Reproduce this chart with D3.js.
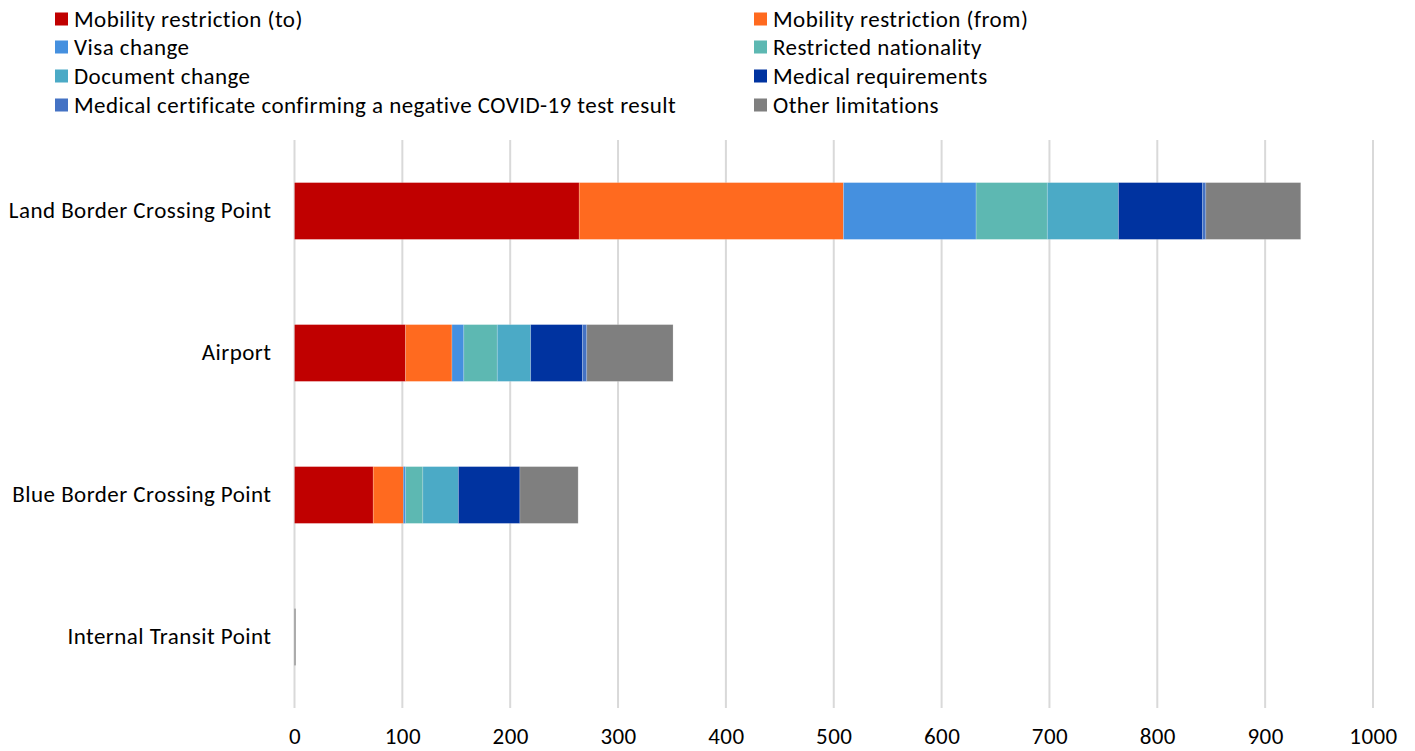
<!DOCTYPE html>
<html>
<head>
<meta charset="utf-8">
<script src="https://cdn.jsdelivr.net/npm/d3@7"></script>
<style>
  html, body { margin: 0; padding: 0; background: #fff; }
  svg { display: block; font-family: Carlito, Lato, "Open Sans", "Liberation Sans", sans-serif; }
  svg text { letter-spacing: 0.45px; }
</style>
</head>
<body>
<svg id="chart" width="1415" height="751"></svg>
<script>
// Border point types (top to bottom)
const categories = ["Land Border Crossing Point", "Airport", "Blue Border Crossing Point", "Internal Transit Point"];

// Restriction types, in stacking order
const seriesNames = [
  "Mobility restriction (to)",
  "Mobility restriction (from)",
  "Visa change",
  "Restricted nationality",
  "Document change",
  "Medical requirements",
  "Medical certificate confirming a negative COVID-19 test result",
  "Other limitations"
];

// Counts per series, one value per category
const mobilityTo      = [264, 103, 73, 0];
const mobilityFrom    = [245, 43, 28, 0];
const visaChange      = [123, 11, 2, 0];
const restrictedNat   = [66, 31, 16, 0];
const documentChange  = [66, 31, 33, 0];
const medicalReq      = [78, 48, 57, 0];
const medicalCert     = [3, 4, 0, 0];
const otherLimits     = [88, 80, 54, 1];

const xTicks = [0, 100, 200, 300, 400, 500, 600, 700, 800, 900, 1000];

const seriesValues = [mobilityTo, mobilityFrom, visaChange, restrictedNat, documentChange, medicalReq, medicalCert, otherLimits];
const colors = ["#C00000", "#FF6A1F", "#4590DF", "#5DB8B2", "#4BAAC6", "#0033A0", "#4472C4", "#7F7F7F"];

const rows = categories.map((c, i) => {
  const r = { category: c };
  seriesNames.forEach((s, j) => { r[s] = seriesValues[j][i]; });
  return r;
});

const svg = d3.select("#chart");
const margin = { left: 294.5, right: 42, top: 140, bottom: 43 };
const width = 1415, height = 751;
const fontSize = 23;

const x = d3.scaleLinear().domain([0, 1000]).range([margin.left, width - margin.right]);
const y = d3.scaleBand().domain(categories).range([margin.top, height - margin.bottom]).paddingInner(0.6).paddingOuter(0.3);

// vertical gridlines
svg.append("g")
  .selectAll("line")
  .data(xTicks)
  .join("line")
  .attr("x1", d => x(d)).attr("x2", d => x(d))
  .attr("y1", margin.top).attr("y2", height - margin.bottom)
  .attr("stroke", "#D9D9D9")
  .attr("stroke-width", 2);

// stacked bars
const stack = d3.stack().keys(seriesNames);
const layers = stack(rows);

svg.append("g")
  .selectAll("g")
  .data(layers)
  .join("g")
  .attr("fill", (d, i) => colors[i])
  .selectAll("rect")
  .data(d => d)
  .join("rect")
  .attr("x", d => x(d[0]))
  .attr("y", d => y(d.data.category))
  .attr("width", d => Math.max(0, x(d[1]) - x(d[0])))
  .attr("height", y.bandwidth())
  .attr("stroke", "rgba(255,255,255,0.25)")
  .attr("stroke-width", d => (d[1] - d[0]) > 2 ? 0.75 : 0);

// x axis labels
const xAxis = d3.axisBottom(x).tickValues(xTicks).tickFormat(d3.format("d")).tickSize(0).tickPadding(0);
const gx = svg.append("g")
  .attr("transform", `translate(0, ${height - margin.bottom + 23})`)
  .call(xAxis);
gx.select(".domain").remove();
gx.selectAll("text")
  .attr("font-size", fontSize)
  .attr("fill", "#000")
  .attr("dy", "0.55em")
  .style("font-family", 'Carlito, Lato, "Open Sans", "Liberation Sans", sans-serif');

// y axis labels
const yAxis = d3.axisLeft(y).tickSize(0).tickPadding(0);
const gy = svg.append("g")
  .attr("transform", `translate(${margin.left - 23}, 0)`)
  .call(yAxis);
gy.select(".domain").remove();
gy.selectAll("text")
  .attr("font-size", fontSize)
  .attr("fill", "#000")
  .style("font-family", 'Carlito, Lato, "Open Sans", "Liberation Sans", sans-serif');

// legend: two columns, four rows
const legendCols = [55, 754];
const legendRowY = [19, 47, 76, 105];
const legend = svg.append("g")
  .selectAll("g")
  .data(seriesNames)
  .join("g")
  .attr("transform", (d, i) => `translate(${legendCols[i % 2]}, ${legendRowY[Math.floor(i / 2)]})`);

legend.append("rect")
  .attr("x", 0).attr("y", -6.5)
  .attr("width", 13).attr("height", 13)
  .attr("fill", (d, i) => colors[i]);

legend.append("text")
  .attr("x", 19)
  .attr("y", 0)
  .attr("dy", "0.35em")
  .attr("font-size", fontSize)
  .attr("fill", "#000")
  .text(d => d);
</script>
</body>
</html>
